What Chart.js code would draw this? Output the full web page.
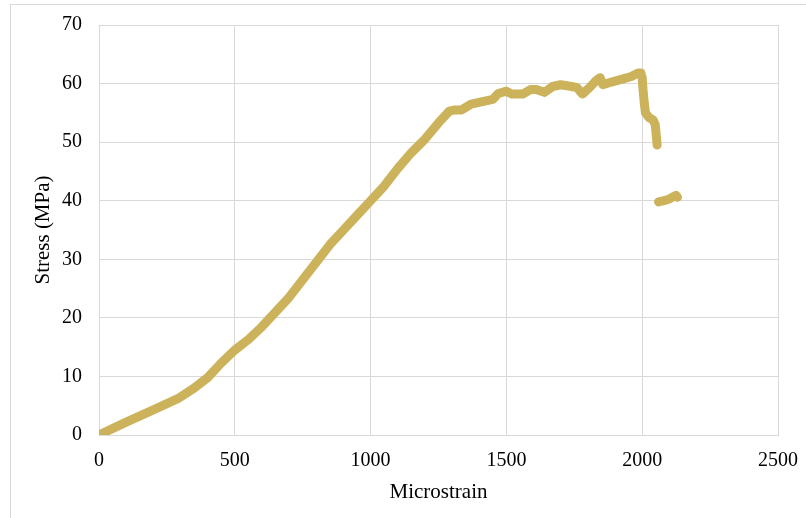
<!DOCTYPE html>
<html>
<head>
<meta charset="utf-8">
<script src="https://cdn.jsdelivr.net/npm/chart.js@4/dist/chart.umd.min.js"></script>
<style>
    html, body { margin: 0; padding: 0; background: #fff; }
    #wrap { position: relative; width: 806px; height: 518px; }
    #frame {
        position: absolute; left: 10px; top: 4px; right: 0; bottom: 0;
        border-top: 1px solid #d9d9d9; border-left: 1px solid #d9d9d9;
    }
    canvas { position: absolute; left: 0; top: 0; }
</style>
</head>
<body>
<div id="wrap">
    <div id="frame"></div>
    <canvas id="stressChart" width="806" height="518"></canvas>
</div>
<script>
    // loading part (before the drop)
    const strainA = [0, 100, 200, 290, 350, 400, 450, 500, 550, 600, 630, 700, 750, 800, 850, 900, 950,
        1000, 1050, 1100, 1150, 1200, 1250, 1290, 1310, 1335, 1370, 1420, 1450, 1470, 1500, 1520, 1560,
        1590, 1610, 1640, 1670, 1700, 1740, 1760, 1780, 1810, 1830, 1845, 1855, 1890, 1930, 1960, 1985,
        1995, 2000, 2003, 2008, 2012, 2025, 2040, 2048, 2052, 2055];
    const stressA = [0, 2.2, 4.3, 6.2, 8, 9.8, 12.3, 14.5, 16.3, 18.5, 20, 23.5, 26.5, 29.5, 32.5, 35, 37.5,
        40, 42.5, 45.5, 48.2, 50.5, 53.3, 55.3, 55.5, 55.5, 56.5, 57, 57.3, 58.3, 58.7, 58.2, 58.2,
        59, 59, 58.5, 59.5, 59.8, 59.5, 59.3, 58.2, 59.5, 60.5, 61, 59.8, 60.3, 60.8, 61.2, 61.8,
        61.8, 61, 59, 56.5, 55, 54.2, 53.8, 53, 51, 49.5];

    // residual part after the drop
    const strainB = [2060, 2080, 2100, 2115, 2125, 2130];
    const stressB = [39.8, 40, 40.3, 40.7, 40.9, 40.6];

    const xTicks = [0, 500, 1000, 1500, 2000, 2500];
    const yTicks = [0, 10, 20, 30, 40, 50, 60, 70];

    const gold = '#ccb35b';
    const gridGray = '#d9d9d9';
    const serif = '"Liberation Serif", "Times New Roman", serif';
    const tickFont = { family: serif, size: 20 };
    const titleFont = { family: serif, size: 21 };

    function toPoints(xs, ys) {
        return xs.map((x, i) => ({ x: x, y: ys[i] }));
    }

    function lineSet(xs, ys) {
        return {
            data: toPoints(xs, ys),
            showLine: true,
            borderColor: gold,
            backgroundColor: gold,
            borderWidth: 9,
            borderCapStyle: 'round',
            borderJoinStyle: 'round',
            pointRadius: 0,
            tension: 0
        };
    }

    new Chart(document.getElementById('stressChart'), {
        type: 'scatter',
        data: {
            datasets: [lineSet(strainA, stressA), lineSet(strainB, stressB)]
        },
        options: {
            responsive: false,
            animation: false,
            layout: { padding: { top: 25, right: 28, left: 0, bottom: 0 } },
            plugins: { legend: { display: false }, tooltip: { enabled: false } },
            scales: {
                x: {
                    type: 'linear',
                    min: 0,
                    max: 2500,
                    afterBuildTicks: (s) => { s.ticks = xTicks.map(v => ({ value: v })); },
                    afterFit: (s) => { s.height = 83; s.paddingLeft = 0; s.paddingRight = 0; },
                    grid: { color: gridGray, drawTicks: false },
                    border: { color: gridGray },
                    ticks: { color: '#000', font: tickFont, padding: 14, maxRotation: 0, callback: (v) => String(v) },
                    title: { display: true, text: 'Microstrain', color: '#000', font: titleFont, padding: { top: 0, bottom: 13 } }
                },
                y: {
                    type: 'linear',
                    min: 0,
                    max: 70,
                    afterBuildTicks: (s) => { s.ticks = yTicks.map(v => ({ value: v })); },
                    afterFit: (s) => { s.width = 99; s.paddingTop = 0; s.paddingBottom = 0; },
                    grid: { color: gridGray, drawTicks: false },
                    border: { color: gridGray },
                    ticks: { color: '#000', font: tickFont, padding: 17, callback: (v) => String(v) },
                    title: { display: true, text: 'Stress (MPa)', color: '#000', font: titleFont, padding: { top: 31, bottom: 0 } }
                }
            }
        }
    });
</script>
</body>
</html>
